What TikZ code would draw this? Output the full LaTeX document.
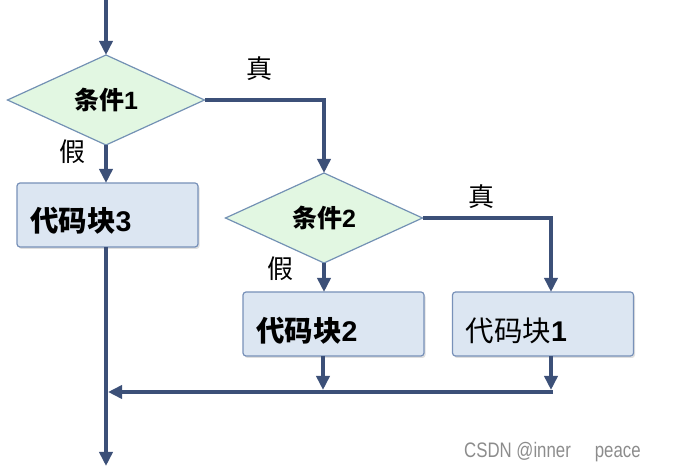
\documentclass[tikz,border=0pt]{standalone}
\usepackage{fontspec}
\setmainfont{Liberation Sans}
\newfontfamily\cjk{Noto Sans CJK SC}
\newfontfamily\wmfont[FakeStretch=0.8]{Liberation Sans}
\newcommand{\dg}[1]{{\rmfamily\bfseries #1}}
\usetikzlibrary{arrows.meta,shapes.geometric,shadows}
\definecolor{lineblue}{RGB}{60,80,120}
\definecolor{condfill}{RGB}{226,247,226}
\definecolor{condborder}{RGB}{115,145,180}
\definecolor{boxfill}{RGB}{220,230,242}
\definecolor{boxborder}{RGB}{120,145,185}
\definecolor{wmgray}{RGB}{140,140,140}
\begin{document}
\begin{tikzpicture}[x=1pt,y=-1pt,
  flow/.style={draw=lineblue, line width=4pt, -{Triangle[width=13pt,length=14pt]}},
  cond/.style={diamond, draw=condborder, fill=condfill, line width=1.2pt,
    minimum width=197pt, minimum height=90pt, inner sep=0pt, outer sep=0pt,
    font=\cjk\bfseries\fontsize{25}{27}\selectfont},
  block/.style={rectangle, rounded corners=3pt, draw=boxborder, fill=boxfill, line width=1.2pt,
    minimum width=181pt, minimum height=64pt, inner sep=0pt, outer sep=0pt,
    drop shadow={shadow xshift=1.5pt, shadow yshift=-2pt, opacity=0.25}},
  blocktext/.style={anchor=west, inner sep=0pt, font=\cjk\fontsize{28.5}{30}\selectfont},
  lbl/.style={inner sep=0pt, font=\cjk\fontsize{26}{28}\selectfont},
  wmark/.style={inner sep=0pt, font=\wmfont\fontsize{21}{23}\selectfont, text=wmgray}]
\useasboundingbox (0,0) rectangle (673,470);
\node[cond] (c1) at (106,100) {条件\dg{1}};
\node[block] (b3) at (107.5,215) {};
\node[cond] (c2) at (324,218) {条件\dg{2}};
\node[block] (b2) at (333.5,324) {};
\node[block] (b1) at (543,324) {};
\node[blocktext] (b3t) at ([xshift=13pt,yshift=-6pt]b3.west) {\bfseries 代码块\dg{3}};
\node[blocktext] (b2t) at ([xshift=13pt,yshift=-7pt]b2.west) {\bfseries 代码块\dg{2}};
\node[blocktext] (b1t) at ([xshift=13pt,yshift=-7pt]b1.west) {代码块\dg{1}};
\node[lbl] (f1) at (72,152) {假};
\node[lbl] (t1) at (259,69) {真};
\node[lbl] (f2) at (280,269) {假};
\node[lbl] (t2) at (481,197) {真};
\node[wmark, anchor=west] (wm) at (464,452) {CSDN @inner\hspace{24pt}peace};
\coordinate (top) at (106,0);
\coordinate (b3out) at (106,247);
\coordinate (bot) at (106,466);
\coordinate (b2in) at (324,292);
\coordinate (b2out) at (323,356);
\coordinate (b1in) at (551,292);
\coordinate (b1out) at (551,356);
\coordinate (j2) at (323,390);
\coordinate (j1) at (551,390);
\coordinate (jr) at (553,392);
\coordinate (jl) at (108,392);
\draw[flow] (top) -- (c1.north);
\draw[flow] (c1.south) -- (c1.south |- b3.north);
\draw[flow] (c1.east) -| (c2.north);
\draw[flow] (c2.south) -- (b2in);
\draw[flow] (c2.east) -| (b1in);
\draw[flow] (b2out) -- (j2);
\draw[flow] (b1out) -- (j1);
\draw[flow] (jr) -- (jl);
\draw[flow] (b3out) -- (bot);
\end{tikzpicture}
\end{document}
